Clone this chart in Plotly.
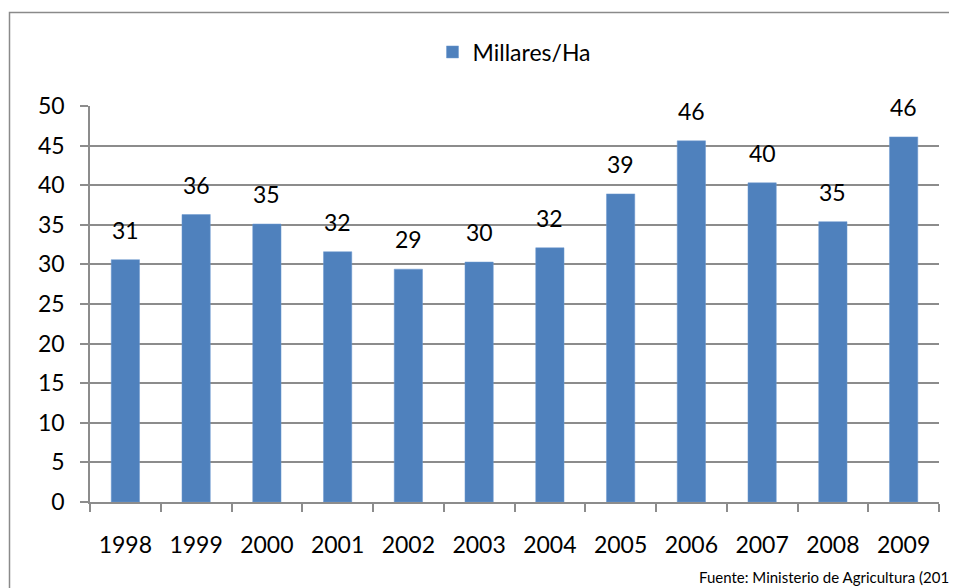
import plotly.graph_objects as go

years = ["1998", "1999", "2000", "2001", "2002", "2003",
         "2004", "2005", "2006", "2007", "2008", "2009"]
millares_ha = [30.6, 36.3, 35.1, 31.6, 29.4, 30.3,
               32.1, 38.9, 45.6, 40.3, 35.4, 46.1]
y_ticks = [0, 5, 10, 15, 20, 25, 30, 35, 40, 45, 50]
series_name = "Millares/Ha"
source_text = "Fuente: Ministerio de Agricultura (2010)"

FONT = "Lato, 'Open Sans', sans-serif"
BAR_COLOR = "#4F81BD"
GRID = "#8C8C8C"

# page body adds an 8px margin, so shrink the figure and shift everything
OFF = 8
W, H = 957 - OFF, 588 - OFF
ML, MR, MT, MB = 90 - OFF, 18, 106 - OFF, 86
PW, PH = W - ML - MR, H - MT - MB


def px_x(x):
    # screen x (reference pixels) -> paper coords
    return (x - OFF - ML) / PW


def px_y(y):
    # screen y (reference pixels) -> paper coords
    return 1 - (y - OFF - MT) / PH


fig = go.Figure()
fig.add_trace(go.Bar(
    x=years,
    y=millares_ha,
    name=series_name,
    marker=dict(color=BAR_COLOR, line=dict(color="#6F9AD0", width=0.5)),
    width=0.4,
    showlegend=True,
))

# data labels above each bar (rounded like the source)
# category axis: place by index so "1998" isn't read as a number
for i, v in enumerate(millares_ha):
    fig.add_annotation(
        x=i, y=v, text=str(round(v)),
        xref="x", yref="y",
        showarrow=False, yanchor="bottom", yshift=14,
        font=dict(family=FONT, size=23, color="#000000"),
    )

# outer chart frame (runs off the right/bottom edge like the original)
fig.add_shape(
    type="rect", xref="paper", yref="paper",
    x0=px_x(9.5), x1=px_x(980),
    y0=px_y(610), y1=px_y(12.5),
    line=dict(color="#8A8A8A", width=1.5),
    fillcolor="rgba(0,0,0,0)", layer="below",
)

fig.add_annotation(
    text=source_text, xref="paper", yref="paper",
    x=px_x(697), y=px_y(577),
    xanchor="left", yanchor="middle", showarrow=False,
    font=dict(family=FONT, size=15, color="#000000"),
)

fig.update_layout(
    width=W, height=H,
    margin=dict(l=ML, r=MR, t=MT, b=MB),
    paper_bgcolor="white", plot_bgcolor="white",
    font=dict(family=FONT, size=23, color="#000000"),
    bargap=0.6,
    legend=dict(
        orientation="h", x=0.5, xanchor="center",
        y=px_y(52), yanchor="middle",
        font=dict(family=FONT, size=23),
        itemwidth=30,
    ),
    xaxis=dict(
        type="category",
        range=[-0.5, len(years) - 0.5],
        showgrid=False,
        showline=True, linecolor=GRID, linewidth=1.5,
        ticks="outside", tickson="boundaries", ticklen=8,
        tickcolor=GRID, tickwidth=1.5,
        tickangle=0,
        tickfont=dict(family=FONT, size=23),
        ticklabelstandoff=22,
    ),
    yaxis=dict(
        range=[0, 50],
        tickvals=y_ticks,
        showgrid=True, gridcolor=GRID, gridwidth=1.5,
        showline=True, linecolor=GRID, linewidth=1.5,
        ticks="outside", ticklen=8, tickcolor=GRID, tickwidth=1.5,
        tickfont=dict(family=FONT, size=23),
        zeroline=False,
        ticklabelstandoff=11,
    ),
)

fig.write_html("out.html")
